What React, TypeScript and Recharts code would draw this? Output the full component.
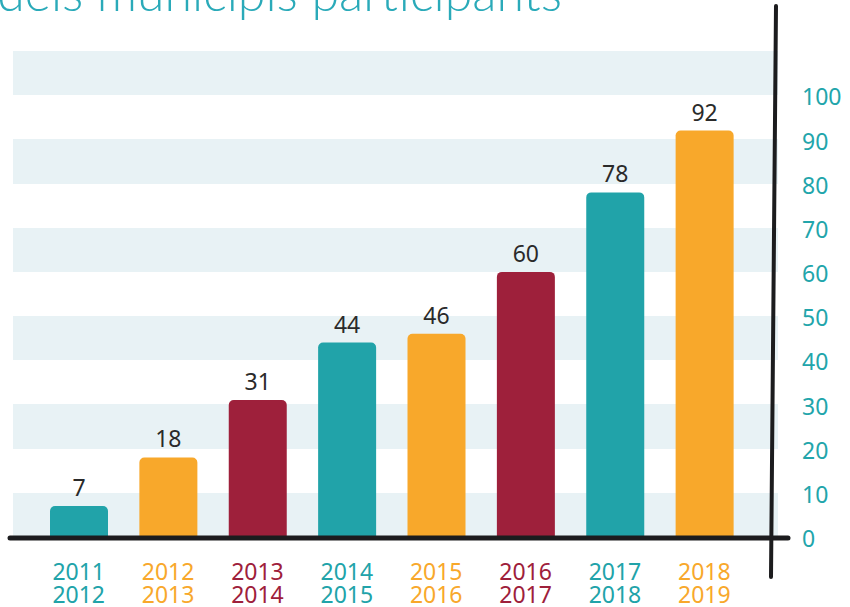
import React from 'react';
import { BarChart, Bar, XAxis, YAxis, CartesianGrid, LabelList, Cell } from 'recharts';

const startYears = ['2011', '2012', '2013', '2014', '2015', '2016', '2017', '2018'];
const endYears = ['2012', '2013', '2014', '2015', '2016', '2017', '2018', '2019'];
const municipis = [7, 18, 31, 44, 46, 60, 78, 92];
const colorKeys = ['teal', 'orange', 'red', 'teal', 'orange', 'red', 'teal', 'orange'];
const yTicks = [0, 10, 20, 30, 40, 50, 60, 70, 80, 90, 100];
const gridValues = [0, 10, 20, 30, 40, 50, 60, 70, 80, 90, 100, 110];
const titleText = 'dels municipis participants';

const COLORS: Record<string, string> = {
  teal: '#21a3a9',
  orange: '#f8a82b',
  red: '#9e203b',
};
const TEAL_TEXT = '#22a5ab';
const BAND = '#e8f2f5';
const INK = '#1c1c1e';
const FONT = '"Noto Sans", "DejaVu Sans", sans-serif';

const data = startYears.map((s, i) => ({
  name: s + '-' + endYears[i],
  start: s,
  end: endYears[i],
  value: municipis[i],
  color: COLORS[colorKeys[i]],
}));

const XTick = (props: any) => {
  const { x, y, payload } = props;
  const d = data[payload.index] || data.find((e) => e.name === payload.value);
  if (!d) return null;
  return (
    <g>
      <text x={x} y={y + 43} textAnchor="middle" fontSize={23} fill={d.color} fontFamily={FONT}>{d.start}</text>
      <text x={x} y={y + 66} textAnchor="middle" fontSize={23} fill={d.color} fontFamily={FONT}>{d.end}</text>
    </g>
  );
};

export default function App() {
  return (
    <div style={{ position: 'absolute', left: 0, top: 0, width: 850, height: 607, background: '#fff', overflow: 'hidden' }}>
      <BarChart width={850} height={607} data={data} margin={{ top: 51, right: 0, bottom: 0, left: 13 }}>
        <CartesianGrid vertical={false} horizontal={true} horizontalValues={gridValues} stroke="transparent"
          horizontalFill={[BAND, '#ffffff']} fillOpacity={1} />
        <XAxis dataKey="name" height={70} axisLine={false} tickLine={false} tickSize={0} tickMargin={0}
          interval={0} padding={{ left: 21, right: 29 }} tick={<XTick />} />
        <YAxis orientation="right" width={72} domain={[0, 110]} ticks={yTicks} axisLine={false} tickLine={false}
          tickSize={0} tickMargin={24} tick={{ fill: TEAL_TEXT, fontSize: 23, fontFamily: FONT, textAnchor: 'start', dy: 2 }} />
        <Bar dataKey="value" barSize={58} radius={[5, 5, 0, 0]} isAnimationActive={false}>
          {data.map((d, i) => (
            <Cell key={i} fill={d.color} />
          ))}
          <LabelList dataKey="value" position="top" offset={10} fill="#2a2a2a" fontSize={23} fontFamily={FONT} />
        </Bar>
      </BarChart>
      <svg width={850} height={607} style={{ position: 'absolute', left: 0, top: 0, pointerEvents: 'none' }}>
        <text x={562} y={11} textAnchor="end" fontSize={50} fontWeight={300} fill="#2aaab9" fontFamily='Lato, "Noto Sans", sans-serif'>
          {titleText}
        </text>
        <line x1={10} y1={538} x2={788} y2={538} stroke={INK} strokeWidth={5} strokeLinecap="round" />
        <line x1={776} y1={6} x2={771} y2={577} stroke={INK} strokeWidth={4} strokeLinecap="round" />
      </svg>
    </div>
  );
}
